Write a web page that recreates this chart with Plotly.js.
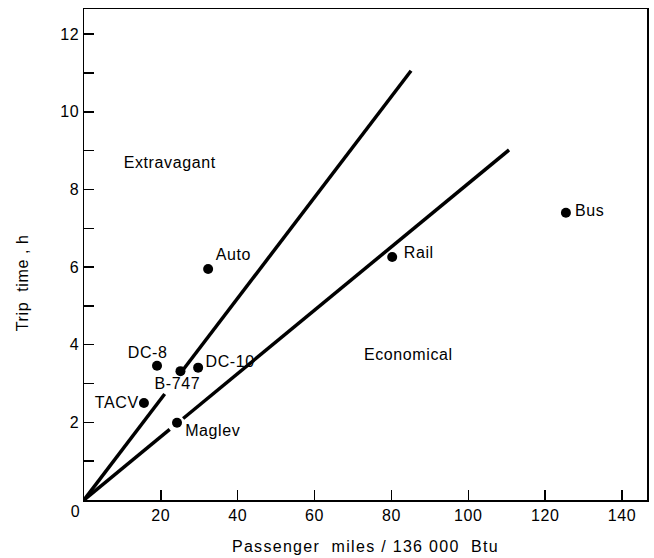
<!DOCTYPE html>
<html>
<head>
<meta charset="utf-8">
<script src="https://cdn.plot.ly/plotly-3.0.1.min.js"></script>
<style>
  html, body { margin: 0; padding: 0; background: #fff; }
  #chart { width: 654px; height: 558px; }
  .main-svg text { letter-spacing: 0.6px; }
  .main-svg text.xtitle { letter-spacing: 1.3px; }
</style>
</head>
<body>
<div id="chart"></div>
<script>
// Vehicles: passenger miles per 136 000 Btu vs trip time (h)
const vehicles = ["Auto", "Rail", "Bus", "DC-8", "B-747", "DC-10", "TACV", "Maglev"];
const milesPerBtu = [32.3, 80.2, 125.4, 19.0, 25.1, 29.7, 15.6, 24.2];
const tripTime = [5.95, 6.26, 7.4, 3.46, 3.32, 3.41, 2.50, 1.99];

// Label placement for each vehicle (data coords + anchor)
const labelX = [34.0, 82.9, 127.5, 16.6, 24.4, 31.4, 14.5, 26.2];
const labelY = [6.33, 6.37, 7.45, 3.80, 3.00, 3.58, 2.51, 1.78];
const labelAnchor = ["left", "left", "left", "center", "center", "left", "right", "left"];

// Boundary lines (with breaks where the original is interrupted by labels/points)
const steepLineX = [0, 21.0, null, 25.3, 85.1];
const steepLineY = [0, 2.73, null, 3.29, 11.06];
const lowerLineX = [0, 22.3, null, 25.8, 110.6];
const lowerLineY = [0, 1.82, null, 2.10, 9.02];

// Region labels
const regionText = ["Extravagant", "Economical"];
const regionX = [10.6, 73.0];
const regionY = [8.69, 3.74];

// Axis ticks
const xTickVals = [20, 40, 60, 80, 100, 120, 140];
const xTickText = ["20", "40", "60", "80", "100", "120", "140"];
const yTickVals = [1, 2, 3, 4, 5, 6, 7, 8, 9, 10, 11, 12];
const yTickText = ["", "2", "", "4", "", "6", "", "8", "", "10", "", "12"];

const FONT = "Liberation Sans, Arial, sans-serif";

const traces = [
  { x: steepLineX, y: steepLineY, mode: "lines", line: { color: "#000", width: 3.5 },
    connectgaps: false, hoverinfo: "skip", showlegend: false },
  { x: lowerLineX, y: lowerLineY, mode: "lines", line: { color: "#000", width: 3.5 },
    connectgaps: false, hoverinfo: "skip", showlegend: false },
  { x: milesPerBtu, y: tripTime, text: vehicles, mode: "markers",
    marker: { color: "#000", size: 10 }, showlegend: false }
];

const annotations = [];
vehicles.forEach((v, i) => {
  annotations.push({ x: labelX[i], y: labelY[i], xref: "x", yref: "y", text: v,
    showarrow: false, xanchor: labelAnchor[i], yanchor: "middle",
    font: { family: FONT, size: 16, color: "#000" } });
});
regionText.forEach((t, i) => {
  annotations.push({ x: regionX[i], y: regionY[i], xref: "x", yref: "y", text: t,
    showarrow: false, xanchor: "left", yanchor: "middle",
    font: { family: FONT, size: 16, color: "#000" } });
});

const plotW = 654 - 84 - 7, plotH = 558 - 9 - 58;
// origin "0" label
annotations.push({ x: (75 - 84) / plotW, y: (500 - 511) / plotH, xref: "paper", yref: "paper", text: "0",
  showarrow: false, xanchor: "center", yanchor: "middle",
  font: { family: FONT, size: 16, color: "#000" } });
// y-axis title as rotated annotation
annotations.push({ x: (22 - 84) / plotW, y: (500 - 283) / plotH, xref: "paper", yref: "paper",
  text: "Trip  time , h", textangle: -90, showarrow: false,
  xanchor: "center", yanchor: "middle",
  font: { family: FONT, size: 16, color: "#000" } });

const layout = {
  width: 654, height: 558,
  margin: { l: 84, r: 7, t: 9, b: 58 },
  paper_bgcolor: "#fff", plot_bgcolor: "#fff",
  font: { family: FONT, size: 16, color: "#000" },
  xaxis: {
    range: [0, 146.5], showgrid: false, zeroline: false,
    showline: true, linecolor: "#000", linewidth: 1.5, mirror: true,
    ticks: "inside", ticklen: 10, tickwidth: 1.5, tickcolor: "#000",
    tickvals: xTickVals, ticktext: xTickText,
    tickfont: { family: FONT, size: 16, color: "#000" },
    title: { text: "Passenger  miles / 136 000  Btu", standoff: 18,
             font: { family: FONT, size: 16, color: "#000" } }
  },
  yaxis: {
    range: [0, 12.65], showgrid: false, zeroline: false,
    showline: true, linecolor: "#000", linewidth: 1.5, mirror: true,
    ticks: "inside", ticklen: 10, tickwidth: 1.5, tickcolor: "#000",
    tickvals: yTickVals, ticktext: yTickText,
    tickfont: { family: FONT, size: 16, color: "#000" }
  },
  annotations: annotations
};

Plotly.newPlot("chart", traces, layout, { staticPlot: true, displayModeBar: false });
</script>
</body>
</html>
